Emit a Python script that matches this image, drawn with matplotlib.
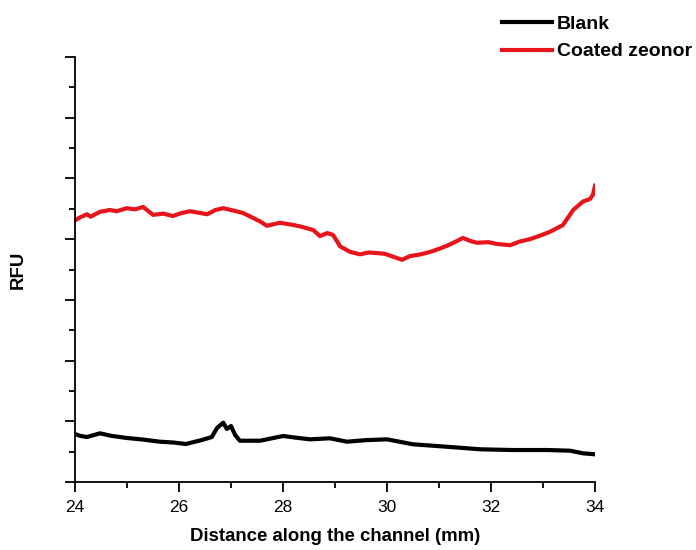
import matplotlib.pyplot as plt
from matplotlib.ticker import MultipleLocator, NullFormatter

plt.rcParams['font.family'] = ['Liberation Sans', 'DejaVu Sans']

# Coated zeonor trace
red_x = [24.0, 24.1, 24.23, 24.3, 24.48, 24.67, 24.8, 25.0, 25.15, 25.31, 25.5, 25.7,
         25.88, 26.05, 26.21, 26.54, 26.7, 26.85, 27.05, 27.23, 27.4, 27.56, 27.69,
         27.94, 28.15, 28.33, 28.58, 28.71, 28.85, 28.96, 29.10, 29.29, 29.48, 29.65,
         29.81, 29.95, 30.12, 30.29, 30.44, 30.65, 30.83, 31.0, 31.15, 31.3, 31.46,
         31.6, 31.73, 31.95, 32.12, 32.37, 32.55, 32.75, 32.95, 33.13, 33.38, 33.58,
         33.77, 33.9, 33.96, 34.0]
red_y = [4.31, 4.36, 4.41, 4.37, 4.45, 4.48, 4.46, 4.51, 4.49, 4.53, 4.40, 4.42,
         4.38, 4.43, 4.46, 4.41, 4.48, 4.51, 4.47, 4.43, 4.36, 4.29, 4.22,
         4.27, 4.24, 4.21, 4.15, 4.05, 4.10, 4.07, 3.88, 3.79, 3.75, 3.78,
         3.77, 3.76, 3.71, 3.66, 3.72, 3.75, 3.79, 3.84, 3.89, 3.95, 4.02,
         3.97, 3.94, 3.95, 3.92, 3.90, 3.96, 4.00, 4.06, 4.12, 4.23, 4.48,
         4.62, 4.66, 4.73, 4.88]

# Blank trace
blk_x = [24.0, 24.1, 24.23, 24.48, 24.7, 25.0, 25.3, 25.63, 25.9, 26.13, 26.44, 26.63,
         26.73, 26.85, 26.92, 27.0, 27.08, 27.17, 27.56, 28.0, 28.25, 28.52, 28.90,
         29.23, 29.6, 30.0, 30.5, 31.15, 31.79, 32.42, 33.08, 33.52, 33.77, 34.0]
blk_y = [0.79, 0.760, 0.741, 0.802, 0.760, 0.725, 0.700, 0.664, 0.650, 0.626, 0.692, 0.741,
         0.889, 0.977, 0.873, 0.922, 0.774, 0.680, 0.680, 0.758, 0.730, 0.703, 0.720,
         0.664, 0.690, 0.703, 0.621, 0.581, 0.539, 0.527, 0.527, 0.516, 0.473, 0.456]

fig = plt.figure(figsize=(6.96, 5.5), dpi=100)
ax = fig.add_axes([0.1078, 0.1236, 0.7471, 0.7728])

ax.plot(blk_x, blk_y, color='black', lw=3.0, label='Blank')
ax.plot(red_x, red_y, color='#e8141b', lw=3.0, label='Coated zeonor')

ax.set_xlim(24, 34)
ax.set_ylim(0, 7)
ax.xaxis.set_major_locator(MultipleLocator(2))
ax.xaxis.set_minor_locator(MultipleLocator(1))
ax.yaxis.set_major_locator(MultipleLocator(1))
ax.yaxis.set_minor_locator(MultipleLocator(0.5))
ax.yaxis.set_major_formatter(NullFormatter())

for s in ['top', 'right']:
    ax.spines[s].set_visible(False)
for s in ['left', 'bottom']:
    ax.spines[s].set_linewidth(1.3)

ax.tick_params(which='major', direction='out', length=7, width=1.3, labelsize=12.5, pad=6)
ax.tick_params(which='minor', direction='out', length=4, width=1.3)

ax.set_xlabel('Distance along the channel (mm)', fontsize=13.4, fontweight='bold')
ax.xaxis.set_label_coords(0.5, -0.108)
ax.set_ylabel('RFU', fontsize=13.4, fontweight='bold')
ax.yaxis.set_label_coords(-0.092, 0.5)

fig.legend(loc='upper left', bbox_to_anchor=(0.721, 0.972), frameon=False,
           prop={'weight': 'bold', 'size': 14}, handlelength=2.6,
           handletextpad=0.25, labelspacing=0.5, borderpad=0, borderaxespad=0)

fig.savefig('out.png', dpi=100)
